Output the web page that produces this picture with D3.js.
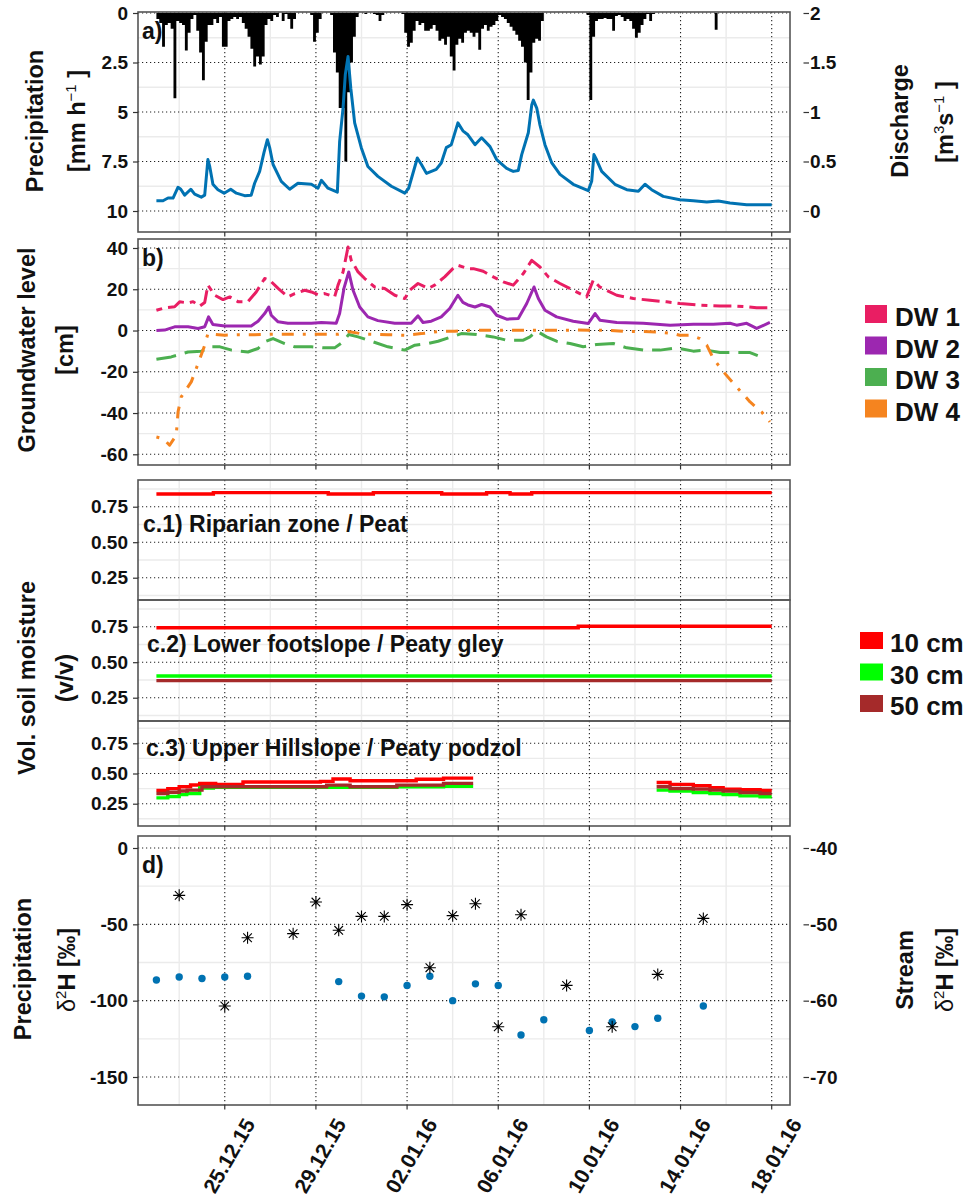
<!DOCTYPE html>
<html>
<head>
<meta charset="utf-8">
<script src="https://cdn.jsdelivr.net/npm/d3@7"></script>
<style>
  body { margin: 0; background: #fff; }
  text { font-family: "Liberation Sans", Arial, sans-serif; font-weight: bold; fill: #111; }
</style>
</head>
<body>
<svg id="chart" width="974" height="1204"></svg>
<script>
// ---------------- data (time in days after 22.12.2015 00:00) ----------------
const startDate = Date.UTC(2015, 11, 22);

// hourly precipitation aggregated to 3-h steps [mm h-1], 8 values per day
const precip3h = [
  0.3,0.5,1.7,0.6,0.5,0.8,4.3,0.4,   // 22.12
  0.5,0.6,1.9,1.0,0.3,0.1,0.9,2.0,   // 23.12
  3.4,1.45,0.6,0.6,0.3,0.5,0.2,1.7,  // 24.12
  1.7,0.4,0.3,0.2,0.3,0.2,0.5,0.8,   // 25.12
  1.2,1.8,2.7,2.2,2.6,2.2,0.6,0.3,   // 26.12
  0.4,0.1,0.2,0,0.4,0.05,0.3,0.8,    // 27.12
  0.3,0,0,0,0,0,0.1,1.45,            // 28.12
  1.0,0.3,0,0,0,0.1,2.0,3.0,         // 29.12
  4.8,4.8,7.5,4.0,2.5,1.2,0.2,0,     // 30.12
  0,0.05,0,0,0.05,0.1,0.4,0.1,       // 31.12
  0,0,0,0,0,0,0.05,1.0,              // 01.01
  1.7,1.5,0.9,0.4,0.6,0.5,0.9,0.9,   // 02.01
  0.8,0.6,0.9,1.4,1.3,1.6,1.2,2.2,   // 03.01
  2.9,1.6,1.3,1.5,1.0,0.9,1.0,1.2,   // 04.01
  1.0,1.85,0.8,0.6,0.9,0.7,0.6,0.4,  // 05.01
  0.1,0.2,0.3,0.5,0.7,0.9,1.1,1.4,   // 06.01
  1.7,2.5,4.4,3.0,1.5,1.3,1.4,0.4,   // 07.01
  0,0,0,0,0,0,0,0,                   // 08.01
  0,0,0,0,0,0,0,0.1,                 // 09.01
  4.4,1.2,0.4,0.3,0.3,0.25,0.3,0.3,  // 10.01
  0.9,0.15,0.1,0.2,0.4,0.3,0.4,0.8,  // 11.01
  1.25,1.0,0.6,0.3,0.05,0.4,0.05,0,  // 12.01
  0,0,0,0,0,0,0,0,                   // 13.01
  0,0,0,0,0,0,0,0,                   // 14.01
  0,0,0,0,0.85,0,0,0,                // 15.01
  0,0,0,0,0,0,0,0,                   // 16.01
  0,0,0,0,0,0,0,0                    // 17.01
];

// stream discharge [m3 s-1]
const qDay = [0,0.29,0.51,0.73,0.95,1.07,1.24,1.51,1.68,1.97,2.12,2.26,2.34,2.48,2.70,2.97,3.26,3.51,3.87,4.16,4.31,4.53,4.72,4.87,4.97,5.12,5.48,5.85,6.21,6.80,7.09,7.24,7.53,7.94,8.04,8.19,8.29,8.41,8.53,8.70,8.99,9.28,9.72,10.31,10.90,11.07,11.45,11.63,11.85,12.28,12.50,12.72,12.94,13.23,13.45,13.67,13.98,14.27,14.64,14.93,15.37,15.66,15.88,16.03,16.32,16.47,16.54,16.69,16.83,17.05,17.35,17.71,18.29,18.95,19.10,19.20,19.31,19.54,20.12,20.64,21.15,21.44,21.73,22.24,22.97,23.56,24.15,24.66,25.17,25.90,27.00];
const qVal = [0.104,0.104,0.131,0.131,0.24,0.22,0.16,0.22,0.17,0.14,0.16,0.52,0.45,0.27,0.215,0.18,0.22,0.18,0.155,0.16,0.28,0.40,0.59,0.72,0.64,0.47,0.30,0.22,0.28,0.27,0.23,0.31,0.23,0.19,0.70,1.04,1.38,1.56,1.24,0.89,0.64,0.45,0.35,0.25,0.18,0.23,0.535,0.47,0.38,0.42,0.485,0.64,0.67,0.89,0.81,0.77,0.67,0.74,0.65,0.52,0.43,0.40,0.41,0.57,0.79,1.07,1.12,1.04,0.87,0.67,0.485,0.37,0.27,0.205,0.30,0.57,0.52,0.40,0.27,0.215,0.20,0.27,0.215,0.148,0.114,0.104,0.091,0.10,0.081,0.064,0.064];

// groundwater level [cm]
const dw1Day = [0,0.36,0.80,1.02,1.39,1.61,1.90,2.12,2.26,2.56,2.92,3.22,3.58,4.02,4.38,4.75,4.97,5.34,5.77,6.07,6.51,6.80,7.09,7.38,7.82,7.97,8.19,8.41,8.55,8.85,9.14,9.58,10.02,10.46,10.90,11.11,11.48,11.92,12.21,12.65,13.01,13.23,13.67,13.91,14.34,14.78,15.22,15.66,16.10,16.47,16.83,17.20,17.71,18.29,18.88,19.17,19.46,20.20,20.93,21.66,22.39,22.97,23.85,24.73,25.31,25.90,26.34,26.92];
const dw1Val = [9.8,11,11.5,13.9,13.4,14,11.8,13.6,22,17.1,15,16.3,14,14,18.7,25.2,24.4,20.4,16.3,17.9,19.5,18.7,17.4,17.9,16.3,22,28.4,40.5,34,28.4,25.2,21.1,20.4,17.1,15.5,19.5,22.8,20.4,22,26,30,31.6,30,30,28.7,26,23.6,22,27.6,34,30.8,26,22.8,19.5,16.3,24.4,21.1,17.1,15.5,14.7,13.9,13.1,12.3,11.9,11.9,11.5,11,11];
const dw2Day = [0,0.36,0.80,1.39,1.83,2.12,2.29,2.48,3.00,3.58,4.16,4.46,4.75,4.93,5.04,5.34,5.77,6.21,6.80,7.24,7.89,8.04,8.23,8.44,8.63,8.92,9.28,9.72,10.46,11.18,11.48,11.70,12.06,12.50,12.87,13.23,13.45,13.67,13.98,14.27,14.64,14.93,15.37,15.88,16.25,16.57,16.76,17.05,17.56,18.29,18.95,19.25,19.46,20.20,21.36,22.54,23.56,24.44,25.17,25.46,25.90,26.34,26.92];
const dw2Val = [0,0.2,1.8,1.8,1.0,1.8,6.6,2.9,2.2,2.2,2.2,4.5,8.2,11.4,7.4,4.2,3.5,3.5,3.5,3.9,3.5,8.2,20.4,28.4,19.5,11.4,6.6,4.8,3.5,3.5,7.1,3.9,4.5,6.6,10.7,17.1,13.6,12.4,11.4,12.6,11.4,7.4,5.5,5.8,13.1,21.1,15.5,9.8,6.6,4.5,3.4,8.2,5.0,3.9,3.5,2.6,3.0,3.0,3.5,2.6,3.5,1.0,3.9];
const dw3Day = [0,0.65,1.39,1.97,2.34,2.79,3.30,4.02,4.46,4.75,5.12,5.63,6.07,6.80,7.38,7.82,8.19,8.44,8.85,9.43,10.16,10.90,11.34,11.92,12.36,12.94,13.38,14.05,14.78,15.37,16.10,16.39,16.69,17.12,17.56,18.15,18.73,19.32,20.05,20.64,21.36,22.10,22.83,23.56,24.15,24.73,25.31,26.05,26.41,26.70];
const dw3Val = [-13.9,-12.8,-10.4,-10.1,-7.9,-7.9,-9.5,-10.4,-8.7,-5.5,-3.9,-6.3,-7.9,-7.9,-8.4,-8.4,-5.5,-1.9,-3.1,-5.2,-7.9,-9.5,-7.1,-6.3,-5.2,-3.1,-1.5,-1.9,-3.1,-4.7,-4.7,-3.1,-0.3,-3.1,-5.2,-6.3,-7.9,-6.8,-6.3,-8.4,-9.5,-9.5,-8.4,-10,-9.5,-10.7,-10.7,-10.7,-12.3,-10.7];
const dw4Day = [0,0.29,0.58,0.87,0.95,1.09,1.53,1.83,2.12,2.26,2.99,3.58,4.31,5.04,5.77,6.51,7.24,7.97,8.41,9.14,10.16,10.90,11.63,12.36,13.09,13.78,14.64,15.51,16.39,17.26,18.13,18.43,19.17,19.90,20.64,21.36,22.10,22.68,22.97,23.42,23.85,24.15,24.44,24.88,25.46,26.05,26.56,26.92];
const dw4Val = [-51.6,-52.4,-55.6,-50.8,-39.4,-32.2,-24.9,-16,-7.1,-1.5,-2.3,-2.0,-2.0,-1.8,-1.8,-1.8,-1.8,-1.8,-0.5,-1.8,-2.0,-2.3,-1.5,-0.5,-0.3,0.1,0.1,0.1,0.1,0.1,0.1,0.3,0.1,0.1,-0.5,-0.5,-0.8,-1.5,-2.3,-2.3,-3.9,-7.1,-13.6,-20,-27.3,-34.6,-39.5,-44.3];

// volumetric soil moisture (v/v); null = no record
const c1Day10 = [0,2.50,7.54,9.52,12.52,14.49,15.52,16.47,27];
const c1Val10 = [0.839,0.849,0.839,0.849,0.839,0.849,0.839,0.849,0.849];
const c2Day10 = [0,18.51,27];
const c2Val10 = [0.743,0.753,0.753];
const c2Day30 = [0,27];
const c2Val30 = [0.403,0.403];
const c2Day50 = [0,27];
const c2Val50 = [0.370,0.370];
const c3Day10 = [0,0.5,1.0,1.5,1.9,2.6,3.8,7.2,7.75,8.5,11.4,12.6,13.9,13.91,21.95,22.54,23.56,24.29,24.87,25.61,26.49,27];
const c3Val10 = [0.36,0.375,0.39,0.405,0.418,0.41,0.43,0.435,0.455,0.44,0.452,0.462,0.462,null,0.426,0.41,0.399,0.382,0.371,0.365,0.36,0.36];
const c3Day30 = [0,0.5,1.0,1.33,1.9,2.5,10.55,12.6,13.9,13.91,21.95,22.54,23.56,24.29,24.87,25.61,26.49,27];
const c3Val30 = [0.298,0.31,0.325,0.335,0.38,0.386,0.39,0.395,0.395,null,0.362,0.354,0.343,0.335,0.326,0.315,0.307,0.307];
const c3Day50 = [0,0.5,1.0,1.35,2.0,7.47,8.5,10.55,12.6,13.9,13.91,21.95,22.54,23.56,24.29,24.87,25.61,26.49,27];
const c3Val50 = [0.335,0.345,0.355,0.362,0.39,0.404,0.39,0.404,0.418,0.418,null,0.39,0.376,0.371,0.362,0.354,0.343,0.335,0.335];

// stable isotopes d2H [permil]
const isoPrecDay = [1,3,4,6,7,8,9,10,11,12,13,14,15,16,18,20,22,24];
const isoPrecVal = [-31,-103.5,-58.8,-56.1,-35.4,-53.9,-44.8,-44.8,-37.1,-78.4,-44.3,-36.5,-117.1,-43.7,-90,-117.1,-82.8,-46.1];
const isoStreamDay = [0,1,2,3,4,8,9,10,11,12,13,14,15,16,17,19,20,21,22,24];
const isoStreamVal = [-57.3,-56.9,-57.1,-56.9,-56.8,-57.5,-59.4,-59.5,-58.0,-56.8,-60.0,-57.8,-58.0,-64.5,-62.5,-63.9,-62.8,-63.4,-62.3,-60.7];

// axis ticks
const majorDayTicks = [3,7,11,15,19,23,27];
const minorDayTicks = [1,5,9,13,17,21,25];
const precTicks = [0,2.5,5,7.5,10];
const qTicks = [0,0.5,1,1.5,2];
const gwTicks = [-60,-40,-20,0,20,40];
const smTicks = [0.25,0.5,0.75];
const isoPrecTicks = [-150,-100,-50,0];
const isoStreamTicks = [-70,-60,-50,-40];

const dwNames = ["DW 1","DW 2","DW 3","DW 4"];
const dwColors = ["#E91E63","#9C27B0","#4CAF50","#F5841F"];
const depthNames = ["10 cm","30 cm","50 cm"];
const depthColors = ["#FF0000","#00FF00","#A52A2A"];

// ---------------- layout ----------------
const svg = d3.select("#chart");
const t = d => new Date(startDate + d * 864e5);
const X0 = 138, X1 = 790;
const x = d3.scaleUtc().domain([t(0), t(27)]).range([156.4, 771.7]);

const panels = {
  a:  {top: 12,  bottom: 232},
  b:  {top: 239, bottom: 465},
  c1: {top: 480, bottom: 600},
  c2: {top: 600, bottom: 721},
  c3: {top: 721, bottom: 826},
  d:  {top: 836, bottom: 1105}
};

const yPrec = d3.scaleLinear().domain([0, 10]).range([13, 211]);
const yQ = d3.scaleLinear().domain([0, 2]).range([211, 13]);
const yGW = d3.scaleLinear().domain([-60, 40]).range([454.3, 248]);
const ySM1 = d3.scaleLinear().domain([0.25, 0.75]).range([577.7, 506.7]);
const ySM2 = d3.scaleLinear().domain([0.25, 0.75]).range([697.7, 626.7]);
const ySM3 = d3.scaleLinear().domain([0.25, 0.75]).range([803.7, 743.3]);
const yIsoP = d3.scaleLinear().domain([-150, 0]).range([1077, 848]);
const yIsoS = d3.scaleLinear().domain([-70, -40]).range([1077, 848]);

// plain hyphen as minus sign in tick labels
const hy = f => v => f(v).replace("\u2212", "-");

// ---------------- helpers ----------------
function grid(p, y, majors, minors) {
  const g = svg.append("g");
  const inside = v => y(v) > p.top + 0.5 && y(v) < p.bottom - 0.5;
  minors.filter(inside).forEach(v => g.append("line")
    .attr("x1", X0).attr("x2", X1).attr("y1", y(v)).attr("y2", y(v))
    .attr("stroke", "#ebebeb").attr("stroke-width", 1.4));
  minorDayTicks.forEach(d => g.append("line")
    .attr("x1", x(t(d))).attr("x2", x(t(d))).attr("y1", p.top).attr("y2", p.bottom)
    .attr("stroke", "#ebebeb").attr("stroke-width", 1.4));
  majors.filter(v => y(v) >= p.top && y(v) <= p.bottom).forEach(v => g.append("line")
    .attr("x1", X0).attr("x2", X1).attr("y1", y(v)).attr("y2", y(v))
    .attr("stroke", "#222").attr("stroke-width", 1.1).attr("stroke-dasharray", "1.2,2.8"));
  majorDayTicks.forEach(d => g.append("line")
    .attr("x1", x(t(d))).attr("x2", x(t(d))).attr("y1", p.top).attr("y2", p.bottom)
    .attr("stroke", "#222").attr("stroke-width", 1.1).attr("stroke-dasharray", "1.2,2.8"));
}

function frame(p) {
  svg.append("rect").attr("x", X0).attr("y", p.top)
    .attr("width", X1 - X0).attr("height", p.bottom - p.top)
    .attr("fill", "none").attr("stroke", "#555").attr("stroke-width", 1.6);
}

function bottomTicks(p) {
  majorDayTicks.forEach(d => svg.append("line")
    .attr("x1", x(t(d))).attr("x2", x(t(d))).attr("y1", p.bottom).attr("y2", p.bottom + 4.5)
    .attr("stroke", "#333").attr("stroke-width", 1.2));
}

function styleAxis(g) {
  g.attr("font-size", 19).attr("font-family", "Liberation Sans, Arial, sans-serif").attr("font-weight", "bold");
  g.select(".domain").remove();
  g.selectAll(".tick line").attr("stroke", "#333").attr("stroke-width", 1.2);
  g.selectAll(".tick text").attr("fill", "#111");
}

function leftAxis(y, vals, fmt) {
  const g = svg.append("g").attr("transform", `translate(${X0},0)`)
    .call(d3.axisLeft(y).tickValues(vals).tickFormat(hy(fmt)).tickSize(5).tickPadding(5));
  styleAxis(g);
}

function rightAxis(y, vals, fmt) {
  const g = svg.append("g").attr("transform", `translate(803.5,0)`)
    .call(d3.axisRight(y).tickValues(vals).tickFormat(hy(fmt)).tickSize(5.5).tickPadding(1));
  styleAxis(g);
}

// rotated axis title; parts: {s, dy, small, normal}
function vTitle(xb, yc, parts, size) {
  const txt = svg.append("text")
    .attr("transform", `translate(${xb},${yc}) rotate(-90)`)
    .attr("text-anchor", "middle").attr("font-size", size || 23.5);
  parts.forEach(pt => {
    const s = txt.append("tspan").text(pt.s);
    if (pt.dy) s.attr("dy", pt.dy);
    if (pt.small) s.attr("font-size", 15).attr("font-weight", "normal");
    if (pt.normal) s.attr("font-weight", "normal");
  });
  return txt;
}

function seriesPoints(days, vals) {
  return days.map((d, i) => ({t: t(d), v: vals[i]}));
}

// ---------------- panel a: precipitation & discharge ----------------
const pa = panels.a;
grid(pa, yPrec, precTicks, [1.25, 3.75, 6.25, 8.75]);

const precPts = precip3h.map((v, i) => ({t: t(i / 8), v: v}));
precPts.push({t: t(27), v: 0});
svg.append("path").datum(precPts)
  .attr("d", d3.area().curve(d3.curveStepAfter)
    .x(d => x(d.t)).y0(yPrec(0)).y1(d => yPrec(d.v)))
  .attr("fill", "#000");

svg.append("path").datum(seriesPoints(qDay, qVal))
  .attr("d", d3.line().x(d => x(d.t)).y(d => yQ(d.v)))
  .attr("fill", "none").attr("stroke", "#0072B2").attr("stroke-width", 3)
  .attr("stroke-linejoin", "round");

frame(pa);
bottomTicks(pa);
leftAxis(yPrec, precTicks, d3.format("~g"));
rightAxis(yQ, qTicks, d3.format("~g"));

svg.append("text").attr("x", 142).attr("y", 39).attr("font-size", 23).text("a)");
vTitle(43, 121, [{s: "Precipitation"}]);
vTitle(85, 121, [{s: "[mm h"}, {s: "\u22121", dy: -9, small: true}, {s: " ]", dy: 9}]);
vTitle(908, 121, [{s: "Discharge"}]);
vTitle(953, 122, [{s: "[m"}, {s: "3", dy: -9, small: true}, {s: "s", dy: 9},
                  {s: "\u22121", dy: -9, small: true}, {s: " ]", dy: 9}]);

// ---------------- panel b: groundwater ----------------
const pb = panels.b;
grid(pb, yGW, gwTicks, [-50, -30, -10, 10, 30]);

const dwSeries = [
  {days: dw1Day, vals: dw1Val, dash: "6,6,18,6"},
  {days: dw2Day, vals: dw2Val, dash: null},
  {days: dw3Day, vals: dw3Val, dash: "20,9"},
  {days: dw4Day, vals: dw4Val, dash: "3,9,12,9"}
];
const gwLine = d3.line().x(d => x(d.t)).y(d => yGW(d.v));
dwSeries.forEach((s, i) => {
  const path = svg.append("path").datum(seriesPoints(s.days, s.vals))
    .attr("d", gwLine).attr("fill", "none")
    .attr("stroke", dwColors[i]).attr("stroke-width", 3)
    .attr("stroke-linejoin", "round");
  if (s.dash) path.attr("stroke-dasharray", s.dash);
});

frame(pb);
bottomTicks(pb);
leftAxis(yGW, gwTicks, d3.format("d"));
svg.append("text").attr("x", 142).attr("y", 266).attr("font-size", 23).text("b)");
vTitle(35, 350, [{s: "Groundwater level"}]);
vTitle(73, 350, [{s: "[cm]"}]);

dwNames.forEach((n, i) => {
  const y0 = 305 + i * 31.5;
  svg.append("rect").attr("x", 865).attr("y", y0).attr("width", 22).attr("height", 18)
    .attr("fill", dwColors[i]);
  svg.append("text").attr("x", 895).attr("y", y0 + 21).attr("font-size", 26).text(n);
});

// ---------------- panel c: soil moisture ----------------
const smLine = y => d3.line().curve(d3.curveStepAfter)
  .defined(d => d.v !== null).x(d => x(d.t)).y(d => y(d.v));

const subPanels = [
  {p: panels.c1, y: ySM1, label: "c.1) Riparian zone / Peat", lx: 143, ly: 532,
   series: [[c1Day10, c1Val10, 0]]},
  {p: panels.c2, y: ySM2, label: "c.2) Lower footslope / Peaty gley", lx: 147, ly: 652,
   series: [[c2Day10, c2Val10, 0], [c2Day30, c2Val30, 1], [c2Day50, c2Val50, 2]]},
  {p: panels.c3, y: ySM3, label: "c.3) Upper Hillslope / Peaty podzol", lx: 146, ly: 756,
   series: [[c3Day10, c3Val10, 0], [c3Day30, c3Val30, 1], [c3Day50, c3Val50, 2]]}
];
subPanels.forEach(sp => {
  grid(sp.p, sp.y, smTicks, [0.125, 0.375, 0.625, 0.875]);
  svg.append("text").attr("x", sp.lx).attr("y", sp.ly).attr("font-size", 23).text(sp.label);
  sp.series.forEach(([days, vals, k]) => {
    svg.append("path").datum(seriesPoints(days, vals))
      .attr("d", smLine(sp.y)).attr("fill", "none")
      .attr("stroke", depthColors[k]).attr("stroke-width", 3.4);
  });
  frame(sp.p);
  leftAxis(sp.y, smTicks, d3.format(".2f"));
});
bottomTicks(panels.c3);
vTitle(35, 678, [{s: "Vol. soil moisture"}]);
vTitle(73, 678, [{s: "(v/v)"}]);

depthNames.forEach((n, i) => {
  const y0 = 632 + i * 31.5;
  svg.append("rect").attr("x", 860).attr("y", y0).attr("width", 23).attr("height", 17)
    .attr("fill", depthColors[i]);
  svg.append("text").attr("x", 890).attr("y", y0 + 20).attr("font-size", 26).text(n);
});

// ---------------- panel d: isotopes ----------------
const pd = panels.d;
grid(pd, yIsoP, isoPrecTicks, [-125, -75, -25]);

svg.append("g").selectAll("circle")
  .data(seriesPoints(isoStreamDay, isoStreamVal)).join("circle")
  .attr("cx", d => x(d.t)).attr("cy", d => yIsoS(d.v)).attr("r", 3.7)
  .attr("fill", "#0072B2");

const star = "M0,-6V6M-6,0H6M-4.3,-4.3L4.3,4.3M-4.3,4.3L4.3,-4.3";
svg.append("g").selectAll("path")
  .data(seriesPoints(isoPrecDay, isoPrecVal)).join("path")
  .attr("transform", d => `translate(${x(d.t)},${yIsoP(d.v)})`)
  .attr("d", star).attr("fill", "none").attr("stroke", "#000").attr("stroke-width", 1.1);

frame(pd);
bottomTicks(pd);
leftAxis(yIsoP, isoPrecTicks, d3.format("d"));
rightAxis(yIsoS, isoStreamTicks, d3.format("d"));
svg.append("text").attr("x", 142).attr("y", 873).attr("font-size", 23).text("d)");

const deltaTitle = [{s: "\u03B4", normal: true}, {s: "2", dy: -9, small: true}, {s: "H [\u2030]", dy: 9}];
vTitle(31, 969, [{s: "Precipitation"}]);
vTitle(75, 970, deltaTitle);
vTitle(913, 970, [{s: "Stream"}]);
vTitle(953, 970, deltaTitle);

// date labels
const fmtDate = d3.utcFormat("%d.%m.%y");
majorDayTicks.forEach(d => {
  svg.append("text")
    .attr("transform", `translate(${x(t(d)) + 31},1124) rotate(-60)`)
    .attr("text-anchor", "end").attr("font-size", 21)
    .text(fmtDate(t(d)));
});
</script>
</body>
</html>
